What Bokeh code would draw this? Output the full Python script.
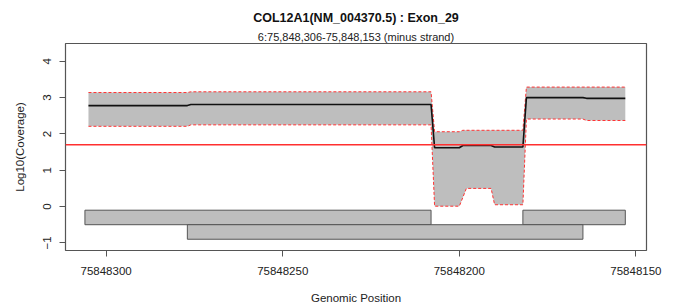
from bokeh.plotting import figure
from bokeh.models import Range1d, FixedTicker, Span, Title
from bokeh.embed import file_html
from bokeh.resources import INLINE

# ---- data ----
positions = [75848305, 75848277, 75848276, 75848208, 75848207, 75848200, 75848199,
             75848198, 75848191, 75848190, 75848182, 75848181, 75848165, 75848164, 75848153]
mean_cov  = [2.78, 2.78, 2.81, 2.81, 1.62, 1.62, 1.68, 1.68, 1.68, 1.64, 1.64, 3.00, 3.00, 2.98, 2.98]
upper_cov = [3.14, 3.14, 3.16, 3.16, 2.06, 2.06, 2.10, 2.10, 2.10, 2.10, 2.10, 3.29, 3.29, 3.29, 3.29]
lower_cov = [2.21, 2.21, 2.25, 2.25, 0.01, 0.01, 0.25, 0.50, 0.50, 0.05, 0.05, 2.41, 2.41, 2.37, 2.37]

threshold = 1.70

exon_left   = [75848306, 75848182, 75848277]
exon_right  = [75848208, 75848153, 75848165]
exon_top    = [-0.1, -0.1, -0.5]
exon_bottom = [-0.5, -0.5, -0.9]

x_ticks = [75848300, 75848250, 75848200, 75848150]
x_tick_labels = ["75848300", "75848250", "75848200", "75848150"]
y_ticks = [-1, 0, 1, 2, 3, 4]

title_text = "COL12A1(NM_004370.5) : Exon_29"
subtitle_text = "6:75,848,306-75,848,153 (minus strand)"

FONT = "Liberation Sans"

p = figure(width=680, height=306, output_backend="svg", toolbar_location=None,
           x_range=Range1d(75848311.5, 75848147.0), y_range=Range1d(-1.21, 4.49),
           min_border_left=65, min_border_right=34, min_border_top=43, min_border_bottom=54)
p.xgrid.visible = False
p.ygrid.visible = False
p.outline_line_color = "#555555"
p.outline_line_width = 1.2
p.background_fill_color = "white"
p.border_fill_color = "white"

# coverage band
band_x = positions + positions[::-1]
band_y = upper_cov + lower_cov[::-1]
p.patch(band_x, band_y, fill_color="#BEBEBE", line_color=None)
p.line(positions, upper_cov, line_color="#FF3333", line_width=1, line_dash="3 2")
p.line(positions, lower_cov, line_color="#FF3333", line_width=1, line_dash="3 2")
p.line(positions, mean_cov, line_color="#111111", line_width=1.6)

# threshold
p.add_layout(Span(location=threshold, dimension="width", line_color="#FF3030", line_width=1.6))

# exon boxes
p.quad(left=exon_left, right=exon_right, top=exon_top, bottom=exon_bottom,
       fill_color="#BEBEBE", line_color="#555555", line_width=1)

# axes
for ax in (p.xaxis[0], p.yaxis[0]):
    ax.axis_line_color = None
    ax.major_tick_line_color = "#555555"
    ax.major_tick_in = 0
    ax.major_tick_out = 6
    ax.minor_tick_line_color = None
    ax.major_label_text_font = FONT
    ax.major_label_text_font_size = "11.5px"
    ax.major_label_text_color = "#222222"
    ax.axis_label_text_font = FONT
    ax.axis_label_text_font_size = "11.5px"
    ax.axis_label_text_font_style = "normal"
    ax.axis_label_text_color = "#222222"

p.xaxis.ticker = FixedTicker(ticks=x_ticks)
p.xaxis.major_label_overrides = dict(zip(x_ticks, x_tick_labels))
p.xaxis.major_label_standoff = 10
p.xaxis.axis_label = "Genomic Position"
p.xaxis.axis_label_standoff = 14

p.yaxis.ticker = FixedTicker(ticks=y_ticks)
p.yaxis.major_label_orientation = "vertical"
p.yaxis.major_label_standoff = 8
p.yaxis.axis_label = "Log10(Coverage)"
p.yaxis.axis_label_standoff = 15

# titles (first added sits nearest the frame)
p.add_layout(Title(text=subtitle_text, align="center", text_font=FONT,
                   text_font_size="11px", text_font_style="normal", text_color="#222222",
                   standoff=2), "above")
p.add_layout(Title(text=title_text, align="center", text_font=FONT,
                   text_font_size="12.5px", text_font_style="bold", text_color="#111111",
                   standoff=5), "above")

open("out.html", "w").write(file_html(p, INLINE))
